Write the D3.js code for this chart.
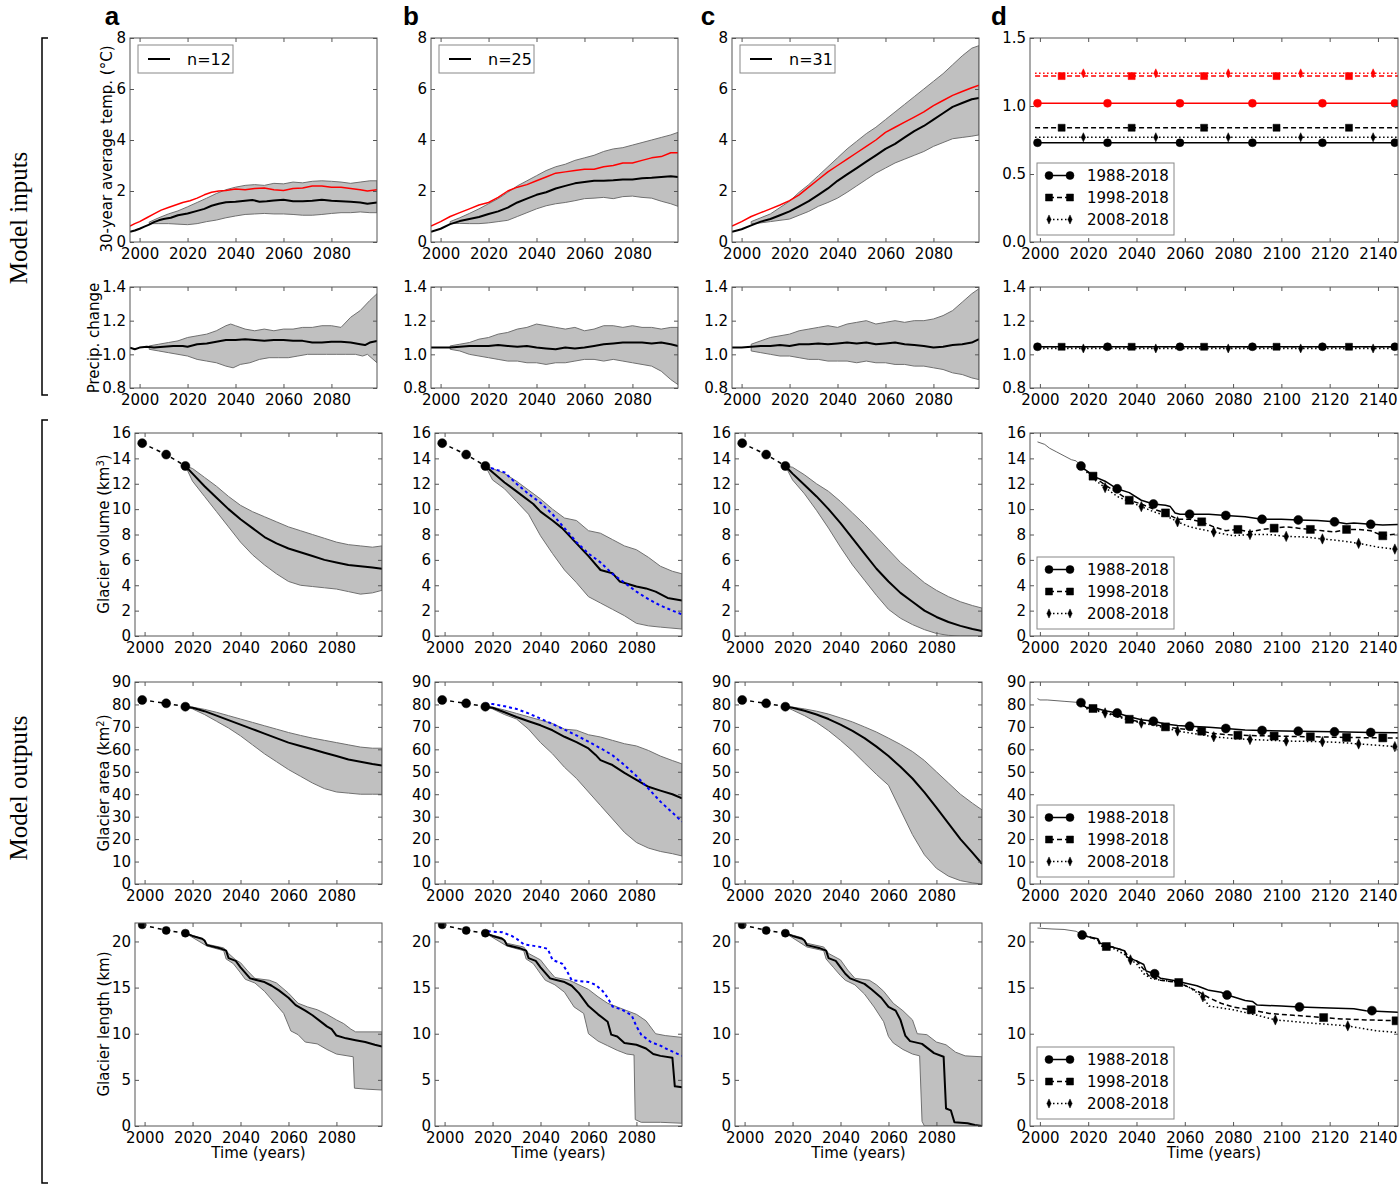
<!DOCTYPE html>
<html><head><meta charset="utf-8">
<script src="https://cdn.jsdelivr.net/npm/d3@7"></script>
<style>body{margin:0;background:#fff}</style>
</head><body><svg id="c" width="1400" height="1186"></svg>
<script>
// ---------- tick labels & categories ----------
const xTicksABC = [2000,2020,2040,2060,2080];
const xTicksD = [2000,2020,2040,2060,2080,2100,2120,2140];
const yTicksTemp = [0,2,4,6,8];
const yTicksTempD = [0,0.5,1.0,1.5];
const yTicksPrecip = [0.8,1.0,1.2,1.4];
const yTicksVol = [0,2,4,6,8,10,12,14,16];
const yTicksArea = [0,10,20,30,40,50,60,70,80,90];
const yTicksLen = [0,5,10,15,20];
const colLetters = ["a","b","c","d"];
const ensembleLabels = ["n=12","n=25","n=31"];
const periods = ["1988-2018","1998-2018","2008-2018"];

// ---------- row 1: temperature ----------
const tempMeanA = [[1996,0.40],[1998,0.45],[2000,0.52],[2002,0.6],[2004,0.68],[2006,0.78],[2008,0.85],[2010,0.9],[2013,0.95],[2016,1.05],[2020,1.12],[2024,1.22],[2027,1.3],[2030,1.42],[2033,1.5],[2036,1.56],[2040,1.58],[2044,1.62],[2047,1.65],[2050,1.58],[2053,1.6],[2056,1.63],[2060,1.66],[2064,1.6],[2068,1.6],[2072,1.62],[2076,1.66],[2080,1.62],[2084,1.6],[2088,1.58],[2092,1.55],[2095,1.5],[2099,1.55]];
const tempRedA = [[1996,0.62],[1998,0.72],[2000,0.8],[2003,0.95],[2006,1.1],[2009,1.25],[2012,1.35],[2015,1.45],[2018,1.55],[2021,1.62],[2024,1.72],[2027,1.85],[2030,1.95],[2033,2.0],[2036,2.02],[2040,2.08],[2044,2.05],[2048,2.1],[2052,2.12],[2056,2.05],[2060,2.02],[2064,2.1],[2068,2.12],[2072,2.2],[2076,2.2],[2080,2.15],[2084,2.15],[2088,2.1],[2092,2.05],[2095,2.0],[2099,2.05]];
const tempUpA = [[2004,0.78],[2008,0.95],[2012,1.1],[2016,1.22],[2020,1.38],[2024,1.55],[2028,1.72],[2032,1.9],[2036,2.05],[2040,2.15],[2044,2.22],[2048,2.25],[2052,2.22],[2056,2.3],[2060,2.28],[2064,2.35],[2068,2.32],[2072,2.38],[2076,2.4],[2080,2.38],[2084,2.35],[2088,2.3],[2092,2.35],[2096,2.4],[2099,2.4]];
const tempLoA = [[2004,0.72],[2008,0.72],[2012,0.72],[2016,0.7],[2020,0.68],[2024,0.72],[2028,0.8],[2032,0.86],[2036,0.95],[2040,1.02],[2044,1.08],[2048,1.1],[2052,1.12],[2056,1.1],[2060,1.1],[2064,1.08],[2068,1.05],[2072,1.05],[2076,1.08],[2080,1.12],[2084,1.15],[2088,1.15],[2092,1.18],[2096,1.15],[2099,1.15]];
const tempMeanB = [[1996,0.4],[2000,0.52],[2004,0.7],[2008,0.82],[2012,0.9],[2016,0.98],[2020,1.1],[2024,1.2],[2028,1.35],[2032,1.55],[2036,1.7],[2040,1.85],[2044,1.95],[2048,2.1],[2052,2.2],[2056,2.3],[2060,2.35],[2064,2.4],[2068,2.4],[2072,2.42],[2076,2.45],[2080,2.45],[2084,2.5],[2088,2.52],[2092,2.55],[2096,2.58],[2099,2.55]];
const tempRedB = [[1996,0.62],[2000,0.8],[2004,1.0],[2008,1.15],[2012,1.3],[2016,1.45],[2020,1.55],[2024,1.75],[2028,2.0],[2032,2.15],[2036,2.25],[2040,2.4],[2044,2.55],[2048,2.7],[2052,2.75],[2056,2.8],[2060,2.85],[2064,2.85],[2068,2.95],[2072,3.0],[2076,3.1],[2080,3.1],[2084,3.2],[2088,3.3],[2092,3.35],[2096,3.5],[2099,3.5]];
const tempUpB = [[2004,0.8],[2008,0.95],[2012,1.12],[2016,1.3],[2020,1.5],[2024,1.7],[2028,1.95],[2032,2.2],[2036,2.4],[2040,2.6],[2044,2.8],[2048,2.95],[2052,3.05],[2056,3.2],[2060,3.3],[2064,3.4],[2068,3.55],[2072,3.65],[2076,3.7],[2080,3.8],[2084,3.9],[2088,4.0],[2092,4.1],[2096,4.2],[2099,4.3]];
const tempLoB = [[2004,0.72],[2008,0.73],[2012,0.72],[2016,0.72],[2020,0.75],[2024,0.8],[2028,0.85],[2032,1.0],[2036,1.15],[2040,1.3],[2044,1.42],[2048,1.5],[2052,1.55],[2056,1.62],[2060,1.7],[2064,1.72],[2068,1.75],[2072,1.7],[2076,1.78],[2080,1.8],[2084,1.75],[2088,1.72],[2092,1.6],[2096,1.5],[2099,1.4]];
const tempMeanC = [[1996,0.4],[2000,0.5],[2004,0.65],[2008,0.8],[2012,0.9],[2016,1.05],[2020,1.2],[2024,1.4],[2028,1.6],[2032,1.85],[2036,2.1],[2040,2.4],[2044,2.65],[2048,2.9],[2052,3.15],[2056,3.4],[2060,3.65],[2064,3.85],[2068,4.1],[2072,4.35],[2076,4.55],[2080,4.8],[2084,5.05],[2088,5.3],[2092,5.45],[2096,5.6],[2099,5.65]];
const tempRedC = [[1996,0.62],[2000,0.8],[2004,1.0],[2008,1.15],[2012,1.3],[2016,1.45],[2020,1.62],[2024,1.85],[2028,2.15],[2032,2.45],[2036,2.75],[2040,3.0],[2044,3.25],[2048,3.5],[2052,3.75],[2056,4.0],[2060,4.3],[2064,4.5],[2068,4.7],[2072,4.9],[2076,5.1],[2080,5.35],[2084,5.55],[2088,5.75],[2092,5.9],[2096,6.05],[2099,6.15]];
const tempUpC = [[2004,0.8],[2008,0.95],[2012,1.1],[2016,1.35],[2020,1.6],[2024,1.95],[2028,2.25],[2032,2.6],[2036,2.95],[2040,3.3],[2044,3.65],[2048,3.95],[2052,4.25],[2056,4.5],[2060,4.8],[2064,5.1],[2068,5.4],[2072,5.7],[2076,6.0],[2080,6.3],[2084,6.6],[2088,6.95],[2092,7.3],[2096,7.6],[2099,7.7]];
const tempLoC = [[2004,0.72],[2008,0.75],[2012,0.8],[2016,0.85],[2020,0.9],[2024,1.05],[2028,1.2],[2032,1.4],[2036,1.55],[2040,1.72],[2044,1.95],[2048,2.2],[2052,2.45],[2056,2.7],[2060,2.9],[2064,3.1],[2068,3.25],[2072,3.4],[2076,3.55],[2080,3.75],[2084,3.9],[2088,4.05],[2092,4.1],[2096,4.15],[2099,4.2]];
// panel d, row 1 (constant factors): black and red per period
const dTempBlack = [0.73, 0.84, 0.77];
const dTempRed = [1.02, 1.22, 1.24];
const dPrecip = [1.045, 1.045, 1.035];
const dConstSpan = [1998, 2150];
const dConstMarkYears = [[1999,2028,2058,2088,2117,2147],[2009,2038,2068,2098,2128],[2018,2048,2078,2108,2138]];

// ---------- row 2: precipitation ----------
const precMeanA = [[1996,1.04],[1998,1.03],[2000,1.04],[2003,1.045],[2006,1.04],[2010,1.045],[2014,1.05],[2018,1.05],[2020,1.045],[2024,1.06],[2028,1.065],[2032,1.075],[2036,1.085],[2040,1.085],[2044,1.09],[2048,1.085],[2052,1.08],[2056,1.085],[2060,1.085],[2064,1.08],[2068,1.08],[2072,1.07],[2076,1.07],[2080,1.075],[2084,1.075],[2088,1.07],[2092,1.06],[2094,1.055],[2096,1.07],[2099,1.08]];
const precUpA = [[2004,1.05],[2008,1.06],[2012,1.07],[2016,1.08],[2020,1.1],[2024,1.11],[2028,1.12],[2032,1.14],[2036,1.17],[2038,1.18],[2040,1.17],[2044,1.15],[2048,1.14],[2052,1.15],[2056,1.14],[2060,1.15],[2064,1.15],[2068,1.16],[2072,1.16],[2076,1.17],[2080,1.17],[2084,1.16],[2088,1.22],[2092,1.26],[2096,1.32],[2099,1.36]];
const precLoA = [[2004,1.03],[2008,1.02],[2012,1.01],[2016,1.0],[2020,0.99],[2024,0.97],[2028,0.96],[2032,0.95],[2036,0.93],[2039,0.92],[2042,0.94],[2046,0.95],[2050,0.97],[2054,0.98],[2058,0.98],[2062,0.98],[2066,0.99],[2070,1.0],[2074,1.0],[2078,1.0],[2082,1.0],[2086,1.0],[2090,1.0],[2093,0.99],[2095,1.0],[2099,0.95]];
const precMeanB = [[1996,1.04],[2000,1.04],[2004,1.04],[2008,1.045],[2012,1.05],[2016,1.05],[2020,1.05],[2024,1.055],[2028,1.05],[2032,1.045],[2036,1.05],[2040,1.04],[2044,1.035],[2048,1.03],[2052,1.04],[2056,1.035],[2060,1.04],[2064,1.05],[2068,1.06],[2072,1.065],[2076,1.07],[2080,1.07],[2084,1.07],[2088,1.065],[2092,1.07],[2096,1.06],[2099,1.05]];
const precUpB = [[2004,1.05],[2008,1.06],[2012,1.07],[2016,1.09],[2020,1.1],[2024,1.12],[2028,1.13],[2032,1.15],[2036,1.16],[2040,1.18],[2044,1.17],[2048,1.16],[2052,1.15],[2056,1.16],[2060,1.14],[2064,1.15],[2068,1.17],[2072,1.17],[2076,1.16],[2080,1.17],[2084,1.16],[2088,1.16],[2092,1.15],[2096,1.16],[2099,1.16]];
const precLoB = [[2004,1.03],[2008,1.02],[2012,1.0],[2016,0.99],[2020,0.98],[2024,0.97],[2028,0.96],[2032,0.96],[2036,0.95],[2040,0.95],[2044,0.94],[2048,0.95],[2052,0.95],[2056,0.96],[2060,0.97],[2064,0.97],[2068,0.96],[2072,0.97],[2076,0.96],[2080,0.95],[2084,0.94],[2088,0.93],[2092,0.9],[2096,0.85],[2099,0.82]];
const precMeanC = [[1996,1.04],[2000,1.04],[2004,1.045],[2008,1.05],[2012,1.05],[2016,1.055],[2020,1.05],[2024,1.06],[2028,1.06],[2032,1.065],[2036,1.06],[2040,1.065],[2044,1.07],[2048,1.065],[2052,1.07],[2056,1.06],[2060,1.065],[2064,1.07],[2068,1.06],[2072,1.055],[2076,1.05],[2080,1.04],[2084,1.045],[2088,1.055],[2092,1.06],[2096,1.07],[2099,1.09]];
const precUpC = [[2004,1.06],[2008,1.08],[2012,1.1],[2016,1.11],[2020,1.12],[2024,1.14],[2028,1.15],[2032,1.16],[2036,1.17],[2040,1.16],[2044,1.18],[2048,1.19],[2052,1.2],[2056,1.18],[2060,1.19],[2064,1.2],[2068,1.19],[2072,1.2],[2076,1.2],[2080,1.21],[2084,1.23],[2088,1.26],[2092,1.31],[2096,1.36],[2099,1.39]];
const precLoC = [[2004,1.02],[2008,1.01],[2012,1.0],[2016,0.99],[2020,0.99],[2024,0.98],[2028,0.97],[2032,0.97],[2036,0.96],[2040,0.96],[2044,0.96],[2048,0.95],[2052,0.96],[2056,0.95],[2060,0.95],[2064,0.94],[2068,0.94],[2072,0.93],[2076,0.93],[2080,0.92],[2084,0.91],[2088,0.89],[2092,0.88],[2096,0.86],[2099,0.85]];

// ---------- observations (rows 3-5) ----------
const obsYears = [1999, 2009, 2017];
const obsVol = [15.2, 14.3, 13.4];
const obsArea = [82, 80.5, 79];
const obsLen = [21.8, 21.2, 20.9];

// ---------- row 3: volume ----------
const volMeanA = [[2017,13.4],[2020,12.8],[2025,11.8],[2030,10.9],[2035,10.0],[2040,9.2],[2045,8.5],[2050,7.8],[2055,7.3],[2060,6.9],[2065,6.6],[2070,6.3],[2075,6.0],[2080,5.8],[2085,5.6],[2090,5.5],[2095,5.4],[2099,5.3]];
const volUpA = [[2017,13.4],[2020,13.2],[2025,12.5],[2030,11.8],[2035,11.0],[2040,10.3],[2045,9.8],[2050,9.4],[2055,9.0],[2060,8.6],[2065,8.3],[2070,8.0],[2075,7.7],[2080,7.4],[2085,7.2],[2090,7.1],[2095,7.0],[2099,7.1]];
const volLoA = [[2017,13.4],[2020,12.2],[2025,11.0],[2030,9.8],[2035,8.6],[2040,7.4],[2045,6.4],[2050,5.6],[2055,4.9],[2060,4.3],[2065,4.0],[2070,3.9],[2075,3.8],[2080,3.7],[2085,3.5],[2090,3.3],[2095,3.4],[2099,3.6]];
const volMeanB = [[2017,13.4],[2020,12.9],[2025,12.1],[2030,11.4],[2037,10.4],[2040,9.8],[2045,9.1],[2049,8.5],[2055,7.3],[2060,6.3],[2065,5.2],[2070,4.95],[2073,4.3],[2080,3.9],[2084,3.75],[2088,3.5],[2093,3.0],[2099,2.8]];
const volUpB = [[2017,13.4],[2020,13.2],[2025,12.8],[2030,12.2],[2035,11.5],[2040,10.8],[2045,10.0],[2050,9.3],[2055,9.1],[2060,8.3],[2065,8.1],[2070,7.6],[2075,7.1],[2080,6.8],[2085,6.2],[2090,5.5],[2095,5.1],[2099,4.9]];
const volLoB = [[2017,13.4],[2020,12.3],[2025,11.6],[2030,10.6],[2035,9.6],[2040,7.9],[2045,6.5],[2050,5.2],[2055,4.2],[2060,3.1],[2065,2.6],[2070,2.1],[2075,1.6],[2080,1.0],[2085,0.8],[2090,0.7],[2099,0.55]];
const volBlueB = [[2017,13.4],[2020,13.2],[2025,12.9],[2030,12.0],[2035,11.2],[2040,10.5],[2045,9.6],[2050,8.5],[2055,7.4],[2060,6.5],[2065,5.8],[2070,4.9],[2075,4.2],[2080,3.5],[2085,2.9],[2090,2.4],[2095,2.0],[2099,1.7]];
const volMeanC = [[2017,13.4],[2020,12.8],[2025,11.9],[2030,11.0],[2035,10.0],[2040,8.9],[2045,7.7],[2050,6.5],[2055,5.3],[2060,4.3],[2065,3.4],[2070,2.7],[2075,2.0],[2080,1.5],[2085,1.1],[2090,0.8],[2095,0.55],[2099,0.4]];
const volUpC = [[2017,13.4],[2020,13.3],[2025,12.7],[2030,12.0],[2035,11.4],[2040,10.6],[2045,9.7],[2050,8.8],[2055,7.8],[2060,6.8],[2065,5.8],[2070,5.0],[2075,4.2],[2080,3.6],[2085,3.1],[2090,2.7],[2095,2.4],[2099,2.2]];
const volLoC = [[2017,13.4],[2020,12.3],[2025,11.2],[2030,9.9],[2035,8.5],[2040,7.0],[2045,5.6],[2050,4.4],[2055,3.2],[2060,2.1],[2065,1.4],[2070,0.9],[2075,0.5],[2080,0.2],[2085,0.05],[2090,0],[2099,0]];
const volHistD = [[1999,15.3],[2002,15.1],[2004,14.8],[2007,14.5],[2010,14.2],[2013,13.9],[2015,13.8],[2017,13.4]];
const volD1 = [[2017,13.4],[2022,12.6],[2027,12.2],[2032,11.6],[2037,11.3],[2042,10.7],[2047,10.4],[2052,10.3],[2054,10.2],[2056,9.7],[2058,9.6],[2062,9.6],[2070,9.6],[2077,9.5],[2085,9.4],[2092,9.2],[2100,9.2],[2107,9.15],[2115,9.1],[2122,9.0],[2127,8.85],[2130,8.9],[2137,8.8],[2142,8.75],[2150,8.8]];
const volD1Marks = [[2017,13.4],[2032,11.6],[2047,10.4],[2062,9.6],[2077,9.5],[2092,9.2],[2107,9.15],[2122,9.0],[2137,8.8]];
const volD2 = [[2017,13.4],[2022,12.6],[2027,11.9],[2032,11.3],[2037,10.7],[2042,10.4],[2047,10.0],[2052,9.7],[2057,9.2],[2062,9.2],[2067,9.0],[2072,8.6],[2077,8.3],[2082,8.4],[2087,8.2],[2092,8.4],[2097,8.5],[2102,8.6],[2107,8.5],[2112,8.4],[2117,8.3],[2122,8.2],[2127,8.4],[2132,8.4],[2137,8.3],[2142,7.9],[2150,8.1]];
const volD2Marks = [[2022,12.6],[2037,10.7],[2052,9.7],[2067,9.0],[2082,8.4],[2097,8.5],[2112,8.4],[2127,8.4],[2142,7.9]];
const volD3 = [[2017,13.4],[2022,12.4],[2027,11.7],[2032,11.0],[2037,10.6],[2042,10.2],[2047,9.8],[2052,9.5],[2057,9.0],[2062,8.6],[2067,8.4],[2072,8.2],[2080,7.9],[2087,8.0],[2095,8.0],[2102,7.85],[2110,7.8],[2117,7.65],[2125,7.5],[2132,7.3],[2140,7.0],[2147,6.85],[2150,6.8]];
const volD3Marks = [[2027,11.7],[2042,10.2],[2057,9.0],[2072,8.2],[2087,8.0],[2102,7.85],[2117,7.65],[2132,7.3],[2147,6.85]];

// ---------- row 4: area ----------
const areaMeanA = [[2017,79],[2020,78.5],[2025,77],[2030,75],[2035,73],[2040,71],[2045,69],[2050,67],[2055,65],[2060,63],[2065,61.5],[2070,60],[2075,58.5],[2080,57],[2085,55.5],[2090,54.5],[2095,53.5],[2099,52.8]];
const areaUpA = [[2017,79],[2020,78.8],[2025,77.8],[2030,76.5],[2035,75],[2040,73.5],[2045,72],[2050,70.5],[2055,69],[2060,67.5],[2065,66.2],[2070,65],[2075,64],[2080,63],[2085,62],[2090,61],[2095,60.5],[2099,60.5]];
const areaLoA = [[2017,79],[2020,78],[2025,75.5],[2030,72.5],[2035,69.5],[2040,66],[2045,62],[2050,58],[2055,54.5],[2060,51],[2065,48],[2070,45],[2075,42.5],[2080,41],[2085,40.5],[2090,40],[2095,40],[2099,40]];
const areaMeanB = [[2017,79],[2020,78.5],[2025,76.5],[2030,74.4],[2035,72.5],[2040,70.7],[2045,68.5],[2050,65.6],[2055,63.2],[2060,60.4],[2063,57.5],[2065,55.2],[2070,53],[2075,49.5],[2080,46.4],[2085,43.3],[2090,41.6],[2095,40],[2099,38.2]];
const areaUpB = [[2017,79],[2020,78.8],[2025,77.5],[2030,76],[2035,74.5],[2040,73],[2045,71.5],[2050,69],[2055,68.5],[2060,66.5],[2065,65.5],[2070,64],[2075,62.5],[2080,61.5],[2085,59.5],[2090,57],[2095,55],[2099,53.5]];
const areaLoB = [[2017,79],[2020,78],[2025,75.5],[2030,73.5],[2035,69],[2040,63],[2045,58],[2050,52],[2055,47],[2060,41],[2065,35],[2070,29],[2075,23],[2080,18.5],[2085,16],[2090,14.5],[2095,13.5],[2099,12.5]];
const areaBlueB = [[2017,80.4],[2020,80.2],[2025,79.2],[2030,78],[2035,76],[2040,73.7],[2045,71.3],[2050,68.8],[2055,66.2],[2060,63.4],[2065,60.5],[2070,57.4],[2075,53],[2080,48.1],[2085,42.5],[2090,36.7],[2095,31.8],[2099,27.8]];
const areaMeanC = [[2017,79],[2020,78.5],[2025,77.2],[2030,75.5],[2035,73.5],[2040,71],[2045,68.2],[2050,65],[2055,61.2],[2060,57],[2065,52.2],[2070,47],[2075,40.8],[2080,34],[2085,27],[2090,20],[2095,14],[2099,9]];
const areaUpC = [[2017,79],[2020,78.8],[2025,78],[2030,77],[2035,75.7],[2040,74],[2045,72.2],[2050,70],[2055,67.7],[2060,65],[2065,62.2],[2070,59],[2075,55],[2080,50],[2085,45],[2090,40],[2095,36],[2099,33]];
const areaLoC = [[2017,79],[2020,77.5],[2025,75],[2030,72],[2035,68.3],[2040,64],[2045,59.3],[2050,54],[2055,48.8],[2060,44],[2065,33],[2070,22],[2075,13],[2080,7],[2085,3.5],[2090,1.5],[2095,0.5],[2099,0]];
const areaHistD = [[1999,82.6],[2000,82.0],[2003,82.0],[2010,81.4],[2017,80.8]];
const areaD1 = [[2017,80.8],[2019,78.8],[2022,78.6],[2027,77.2],[2032,76.2],[2037,74.5],[2042,73.2],[2047,72.5],[2052,71.3],[2057,70.6],[2062,70.3],[2070,69.8],[2077,69.3],[2085,68.6],[2092,68.4],[2107,68.1],[2122,67.8],[2137,67.5],[2150,67.4]];
const areaD1Marks = [[2017,80.8],[2032,76.2],[2047,72.5],[2062,70.3],[2077,69.3],[2092,68.4],[2107,68.1],[2122,67.8],[2137,67.5]];
const areaD2 = [[2017,80.8],[2019,78.5],[2022,78.2],[2027,76.5],[2032,75.0],[2037,73.4],[2042,72.0],[2047,71.2],[2052,70.0],[2057,69.3],[2062,68.8],[2067,68.1],[2072,67.0],[2077,66.6],[2082,66.3],[2097,65.9],[2112,65.6],[2127,65.3],[2142,65.1],[2150,65.0]];
const areaD2Marks = [[2022,78.2],[2037,73.4],[2052,70.0],[2067,68.1],[2082,66.3],[2097,65.9],[2112,65.6],[2127,65.3],[2142,65.1]];
const areaD3 = [[2017,80.8],[2019,78.2],[2022,77.5],[2027,76.2],[2032,74.5],[2037,73.0],[2042,71.7],[2047,70.8],[2052,69.5],[2057,68.2],[2062,67.3],[2067,66.5],[2072,65.6],[2080,64.8],[2087,64.4],[2102,63.7],[2117,63.4],[2125,63.0],[2132,62.4],[2140,61.8],[2147,61.2],[2150,60.9]];
const areaD3Marks = [[2027,76.2],[2042,71.7],[2057,68.2],[2072,65.6],[2087,64.4],[2102,63.7],[2117,63.4],[2132,62.4],[2147,61.2]];

// ---------- row 5: length ----------
const lenMeanA = [[2017,20.9],[2020,20.6],[2024,20.3],[2025,20.1],[2026,19.6],[2031,19.3],[2034,19.0],[2035,18.2],[2038,17.9],[2040,17.2],[2042,16.6],[2044,16.0],[2047,15.8],[2050,15.6],[2053,15.2],[2056,14.7],[2060,13.9],[2063,13.1],[2067,12.5],[2070,12.0],[2074,11.2],[2076,10.8],[2078,10.5],[2080,9.8],[2084,9.5],[2088,9.3],[2092,9.1],[2096,8.8],[2099,8.6]];
const lenUpA = [[2017,20.9],[2024,20.3],[2026,19.7],[2033,19.3],[2035,18.7],[2038,18.0],[2040,17.7],[2043,16.8],[2046,16.0],[2052,15.8],[2055,15.5],[2060,14.4],[2064,13.3],[2068,12.9],[2072,12.6],[2076,12.1],[2080,11.5],[2083,11.1],[2086,10.5],[2088,10.2],[2099,10.2]];
const lenLoA = [[2017,20.9],[2026,19.5],[2033,19.0],[2034,18.1],[2037,17.6],[2040,16.6],[2042,15.9],[2046,15.5],[2050,14.6],[2054,13.4],[2058,12.2],[2061,10.3],[2064,9.9],[2067,9.1],[2072,8.9],[2076,8.3],[2080,7.8],[2087,7.5],[2087.5,4.1],[2092,4.0],[2099,3.9]];
const lenMeanB = [[2017,20.9],[2020,20.6],[2024,20.3],[2025,20.1],[2026,19.6],[2031,19.3],[2034,19.0],[2035,18.2],[2038,17.9],[2040,17.2],[2042,16.6],[2044,16.0],[2047,15.8],[2050,15.6],[2053,15.2],[2056,14.4],[2060,13.0],[2064,12.1],[2068,11.3],[2069.5,9.9],[2072,9.7],[2075,9.0],[2080,8.8],[2084,8.4],[2087,7.8],[2090,7.6],[2095,7.4],[2096,4.3],[2099,4.2]];
const lenUpB = [[2017,20.9],[2024,20.4],[2026,19.8],[2033,19.4],[2035,18.7],[2040,18.0],[2043,17.0],[2046,16.1],[2052,15.8],[2056,15.3],[2060,14.8],[2064,14.0],[2068,13.3],[2072,12.9],[2076,12.5],[2080,12.1],[2084,11.4],[2088,10.0],[2092,9.8],[2099,9.6]];
const lenLoB = [[2017,20.9],[2026,19.5],[2033,19.0],[2034,18.1],[2037,17.6],[2040,16.5],[2042,15.8],[2046,15.3],[2050,14.5],[2054,12.9],[2058,12.2],[2060,10.0],[2064,9.2],[2068,8.7],[2072,8.2],[2076,7.8],[2079,7.7],[2079.5,0.7],[2082,0.4],[2090,0.4],[2099,0.3]];
const lenBlueB = [[2018,21.1],[2024,21.0],[2028,20.6],[2030,20.3],[2033,19.7],[2040,19.4],[2043,19.2],[2045,18.0],[2049,17.6],[2051,16.8],[2053,15.8],[2060,15.6],[2063,15.3],[2066,14.6],[2068,13.9],[2070,12.95],[2074,12.6],[2078,12.0],[2080,10.8],[2082,9.9],[2086,9.1],[2090,8.7],[2093,8.3],[2099,7.6]];
const lenMeanC = [[2017,20.9],[2020,20.6],[2024,20.3],[2025,20.1],[2026,19.6],[2031,19.3],[2034,19.0],[2035,18.2],[2038,17.9],[2040,17.2],[2042,16.5],[2044,16.0],[2047,15.7],[2050,15.4],[2053,14.8],[2057,13.9],[2060,12.9],[2063,12.5],[2065,11.5],[2067,9.8],[2069,9.2],[2074,8.9],[2079,7.9],[2083,7.5],[2084,1.9],[2086,1.7],[2087.5,0.4],[2093,0.3],[2096,0.1],[2099,0]];
const lenUpC = [[2017,20.9],[2024,20.4],[2026,19.8],[2033,19.4],[2035,18.7],[2040,18.0],[2043,16.9],[2046,16.0],[2052,15.8],[2055,15.3],[2058,14.6],[2062,13.3],[2066,12.5],[2070,11.5],[2072,10.0],[2076,9.9],[2080,9.1],[2084,8.8],[2088,8.0],[2092,7.6],[2099,7.5]];
const lenLoC = [[2017,20.9],[2026,19.4],[2033,19.0],[2034,18.1],[2037,17.2],[2040,16.3],[2042,15.8],[2046,15.3],[2050,14.3],[2054,12.9],[2058,11.3],[2060,9.7],[2062,9.0],[2066,8.3],[2070,7.8],[2073,7.6],[2074,0.5],[2075,0],[2099,0]];
const lenHistD = [[1999,21.45],[2005,21.35],[2010,21.3],[2015,21.1],[2017.5,20.7]];
const lenD1 = [[2017.5,20.7],[2020,20.5],[2024,20.3],[2025,19.8],[2030,19.4],[2035,19.0],[2036,18.3],[2040,17.9],[2043,17.5],[2044,16.8],[2047.5,16.5],[2050,16.0],[2055,15.8],[2060,15.5],[2065,15.2],[2068,14.9],[2070,14.7],[2075,14.5],[2077.5,14.2],[2080,14.0],[2085,13.6],[2088,13.5],[2090,13.1],[2100,13.0],[2107.5,12.9],[2120,12.8],[2130,12.7],[2135,12.5],[2150,12.3]];
const lenD1Marks = [[2017.5,20.7],[2047.5,16.5],[2077.5,14.2],[2107.5,12.9],[2137.5,12.5]];
const lenD2 = [[2017.5,20.7],[2024,20.2],[2025,19.5],[2030,19.4],[2035,19.0],[2037,18.2],[2040,17.9],[2043,17.0],[2045,16.3],[2050,15.8],[2057.5,15.55],[2062,15.0],[2066,14.5],[2070,13.9],[2075,13.3],[2080,12.9],[2087.5,12.6],[2095,12.2],[2105,12.0],[2117.5,11.75],[2125,11.6],[2135,11.5],[2150,11.4]];
const lenD2Marks = [[2027.5,19.45],[2057.5,15.55],[2087.5,12.6],[2117.5,11.75],[2147.5,11.4]];
const lenD3 = [[2017.5,20.7],[2024,20.2],[2025,19.6],[2030,19.3],[2035,18.6],[2037.5,18.0],[2040,17.6],[2043,16.5],[2046,16.0],[2050,15.8],[2057,15.6],[2062,15.0],[2067.5,14.0],[2070,13.0],[2075,12.8],[2080,12.6],[2090,12.0],[2097.5,11.5],[2110,11.2],[2127.5,10.85],[2135,10.5],[2140,10.3],[2150,10.1]];
const lenD3Marks = [[2037.5,18.0],[2067.5,14.0],[2097.5,11.5],[2127.5,10.85]];

// ---------- drawing ----------
const svg = d3.select("#c");
const defs = svg.append("defs");
const FONT = "DejaVu Sans, sans-serif";
const AX = "#555";
let clipN = 0;

function panel(px,py,pw,ph,xd,yd,xt,yt,fmt){
  const g = svg.append("g").attr("transform",`translate(${px},${py})`);
  const x = d3.scaleLinear().domain(xd).range([0,pw]);
  const y = d3.scaleLinear().domain(yd).range([ph,0]);
  const id = "cp"+(clipN++);
  defs.append("clipPath").attr("id",id).append("rect").attr("width",pw).attr("height",ph);
  const plot = g.append("g").attr("clip-path",`url(#${id})`);
  const over = g.append("g");
  const finish = () => {
    const axes = [
      [d3.axisBottom(x).tickValues(xt).tickFormat(d3.format("d")), `translate(0,${ph})`, 6],
      [d3.axisTop(x).tickValues(xt).tickFormat(""), null, 4],
      [d3.axisLeft(y).tickValues(yt).tickFormat(fmt), null, 4],
      [d3.axisRight(y).tickValues(yt).tickFormat(""), `translate(${pw},0)`, 4]];
    axes.forEach(([ax,tr,pad])=>{
      const a = g.append("g").call(ax.tickSize(-4).tickSizeOuter(0).tickPadding(pad));
      if(tr) a.attr("transform",tr);
      a.select(".domain").remove();
      a.selectAll("line").attr("stroke",AX);
      a.selectAll("text").attr("font-size",15).attr("font-family",FONT).attr("fill","#000");
    });
    g.append("rect").attr("width",pw).attr("height",ph).attr("fill","none").attr("stroke",AX).attr("stroke-width",1);
  };
  return {g,plot,over,x,y,finish,pw,ph};
}
function lineGen(p){ return d3.line().x(d=>p.x(d[0])).y(d=>p.y(d[1])); }
function drawLine(p,data,color,w,dash){
  p.plot.append("path").attr("d",lineGen(p)(data)).attr("fill","none").attr("stroke",color)
    .attr("stroke-width",w).attr("stroke-dasharray",dash||null).attr("stroke-linejoin","round");
}
function drawBand(p,up,lo){
  const pts = up.concat(lo.slice().reverse());
  p.plot.append("path").attr("d",lineGen(p)(pts)+"Z").attr("fill","#c0c0c0").attr("stroke","#707070").attr("stroke-width",1);
}
function markerPath(shape,s){
  if(shape==="circle") return d3.symbol(d3.symbolCircle, Math.PI*s*s)();
  if(shape==="square") return `M${-s},${-s}H${s}V${s}H${-s}Z`;
  return `M0,${-s*1.3}L${s*0.6},0L0,${s*1.3}L${-s*0.6},0Z`;
}
function drawMarks(layer,pts,shape,color,s){
  layer.selectAll(null).data(pts).enter().append("path")
    .attr("d",markerPath(shape,s)).attr("fill",color).attr("stroke",color).attr("stroke-width",0.5)
    .attr("transform",d=>`translate(${d[0]},${d[1]})`);
}
function drawMarksData(p,data,shape,color,s){
  drawMarks(p.plot,data.map(d=>[p.x(d[0]),p.y(d[1])]),shape,color,s);
}
const shapes = ["circle","square","diamond"];
const dashes = [null,"5,3","1.5,2.5"];

function legendN(p,label){
  const L = p.over.append("g").attr("transform","translate(8,7)");
  L.append("rect").attr("width",95).attr("height",28).attr("fill","#fff").attr("stroke","#888");
  L.append("line").attr("x1",10).attr("x2",32).attr("y1",14).attr("y2",14).attr("stroke","#000").attr("stroke-width",2);
  L.append("text").attr("x",49).attr("y",14).attr("dy","0.35em").attr("font-size",16).attr("font-family",FONT).text(label);
}
function legendD(p){
  const L = p.over.append("g").attr("transform",`translate(7,${p.ph-7-72})`);
  L.append("rect").attr("width",137).attr("height",72).attr("fill","#fff").attr("stroke","#888");
  periods.forEach((lab,i)=>{
    const yy = 12.5 + i*22;
    L.append("line").attr("x1",12).attr("x2",33).attr("y1",yy).attr("y2",yy).attr("stroke","#000")
      .attr("stroke-width",1.5).attr("stroke-dasharray",dashes[i]);
    drawMarks(L,[[12,yy],[33,yy]],shapes[i],"#000",i===0?4:3.5);
    L.append("text").attr("x",50).attr("y",yy).attr("dy","0.35em").attr("font-size",15).attr("font-family",FONT).text(lab);
  });
}

const fmtInt = d3.format("d"), fmt1 = d3.format(".1f");
const colX12 = [130,431,732], colX345 = [135,435,735];
const PW = 247, DX = 1030, DW = 368;
const domABC = [1996,2099], domD = [1995.9,2148.3];
const rows = {
  temp:{y:38,h:204}, prec:{y:287,h:101}, vol:{y:433,h:203}, area:{y:682,h:202}, len:{y:923,h:203}
};

const tempSets = [[tempMeanA,tempRedA,tempUpA,tempLoA],[tempMeanB,tempRedB,tempUpB,tempLoB],[tempMeanC,tempRedC,tempUpC,tempLoC]];
const precSets = [[precMeanA,precUpA,precLoA],[precMeanB,precUpB,precLoB],[precMeanC,precUpC,precLoC]];
const volSets = [[volMeanA,volUpA,volLoA],[volMeanB,volUpB,volLoB],[volMeanC,volUpC,volLoC]];
const areaSets = [[areaMeanA,areaUpA,areaLoA],[areaMeanB,areaUpB,areaLoB],[areaMeanC,areaUpC,areaLoC]];
const lenSets = [[lenMeanA,lenUpA,lenLoA],[lenMeanB,lenUpB,lenLoB],[lenMeanC,lenUpC,lenLoC]];
const blueSets = {vol:volBlueB, area:areaBlueB, len:lenBlueB};

for(let c=0;c<3;c++){
  let p = panel(colX12[c],rows.temp.y,PW,rows.temp.h,domABC,[0,8],xTicksABC,yTicksTemp,fmtInt);
  const [tm,tr,tu,tl] = tempSets[c];
  drawBand(p,tu,tl); drawLine(p,tm,"#000",2); drawLine(p,tr,"#f00",1.5);
  legendN(p,ensembleLabels[c]); p.finish();
  p = panel(colX12[c],rows.prec.y,PW,rows.prec.h,domABC,[0.8,1.4],xTicksABC,yTicksPrecip,fmt1);
  const [pm,pu,pl] = precSets[c];
  drawBand(p,pu,pl); drawLine(p,pm,"#000",2); p.finish();
  [["vol",volSets,[0,16],yTicksVol,obsVol],["area",areaSets,[0,90],yTicksArea,obsArea],["len",lenSets,[0,22],yTicksLen,obsLen]].forEach(([key,sets,yd,yt,obs])=>{
    const q = panel(colX345[c],rows[key].y,PW,rows[key].h,domABC,yd,xTicksABC,yt,fmtInt);
    const [m,u,l] = sets[c];
    drawBand(q,u,l); drawLine(q,m,"#000",2);
    if(c===1) drawLine(q,blueSets[key],"#0000ff",2,"3,3");
    const obsPts = obsYears.map((yr,i)=>[yr,obs[i]]);
    drawLine(q,obsPts,"#000",1.5,"4,4");
    drawMarksData(q,obsPts,"circle","#000",key==="len"?4:4.5);
    q.finish();
  });
}

// column d
{
  let p = panel(DX,rows.temp.y,DW,rows.temp.h,domD,[0,1.5],xTicksD,yTicksTempD,fmt1);
  [dTempRed,dTempBlack].forEach((vals,k)=>{
    const col = k===0?"#f00":"#000";
    vals.forEach((v,i)=>{
      drawLine(p,dConstSpan.map(yr=>[yr,v]),col,1.5,dashes[i]);
      drawMarksData(p,dConstMarkYears[i].map(yr=>[yr,v]),shapes[i],col,i===0?4:3.5);
    });
  });
  legendD(p); p.finish();

  p = panel(DX,rows.prec.y,DW,rows.prec.h,domD,[0.8,1.4],xTicksD,yTicksPrecip,fmt1);
  dPrecip.forEach((v,i)=>{
    drawLine(p,dConstSpan.map(yr=>[yr,v]),"#000",1.5,dashes[i]);
    drawMarksData(p,dConstMarkYears[i].map(yr=>[yr,v]),shapes[i],"#000",i===0?4:3.5);
  });
  p.finish();

  [["vol",[0,16],yTicksVol,volHistD,[volD1,volD2,volD3],[volD1Marks,volD2Marks,volD3Marks]],
   ["area",[0,90],yTicksArea,areaHistD,[areaD1,areaD2,areaD3],[areaD1Marks,areaD2Marks,areaD3Marks]],
   ["len",[0,22],yTicksLen,lenHistD,[lenD1,lenD2,lenD3],[lenD1Marks,lenD2Marks,lenD3Marks]]].forEach(([key,yd,yt,hist,ser,marks])=>{
    const q = panel(DX,rows[key].y,DW,rows[key].h,domD,yd,xTicksD,yt,fmtInt);
    drawLine(q,hist,"#666",1);
    [2,1,0].forEach(i=>{
      drawLine(q,ser[i],"#000",1.5,dashes[i]);
      drawMarksData(q,marks[i],shapes[i],"#000",i===0?4.5:4);
    });
    legendD(q); q.finish();
  });
}

// axis titles
function vLabel(x,y,parts){
  const t = svg.append("text").attr("transform",`translate(${x},${y}) rotate(-90)`).attr("text-anchor","middle")
    .attr("font-size",15).attr("font-family",FONT);
  parts.forEach(pt=>{
    const s = t.append("tspan").text(pt.t);
    if(pt.sup) s.attr("baseline-shift","super").attr("font-size",10);
  });
}
vLabel(112,149,[{t:"30-year average temp. (°C)"}]);
vLabel(99,338,[{t:"Precip. change"}]);
vLabel(109,534,[{t:"Glacier volume (km"},{t:"3",sup:true},{t:")"}]);
vLabel(109,783,[{t:"Glacier area (km"},{t:"2",sup:true},{t:")"}]);
vLabel(109,1024,[{t:"Glacier length (km)"}]);
[...colX345.map(x=>x+PW/2), DX+DW/2].forEach(cx=>{
  svg.append("text").attr("x",cx).attr("y",1158).attr("text-anchor","middle").attr("font-size",15)
    .attr("font-family",FONT).text("Time (years)");
});
// column letters
[112,411,708,999].forEach((x,i)=>{
  svg.append("text").attr("x",x).attr("y",25).attr("text-anchor","middle").attr("font-size",26)
    .attr("font-weight","bold").attr("font-family","Liberation Sans, Arial, sans-serif").text(colLetters[i]);
});
// group brackets
[[38,395,"Model inputs",218],[420,1183,"Model outputs",788]].forEach(([y0,y1,lab,cy])=>{
  svg.append("path").attr("d",`M48,${y0}H42V${y1}H48`).attr("fill","none").attr("stroke","#000").attr("stroke-width",1.5);
  svg.append("text").attr("transform",`translate(27,${cy}) rotate(-90)`).attr("text-anchor","middle")
    .attr("font-size",25).attr("font-family","Liberation Serif, Times New Roman, serif").text(lab);
});
</script></body></html>
